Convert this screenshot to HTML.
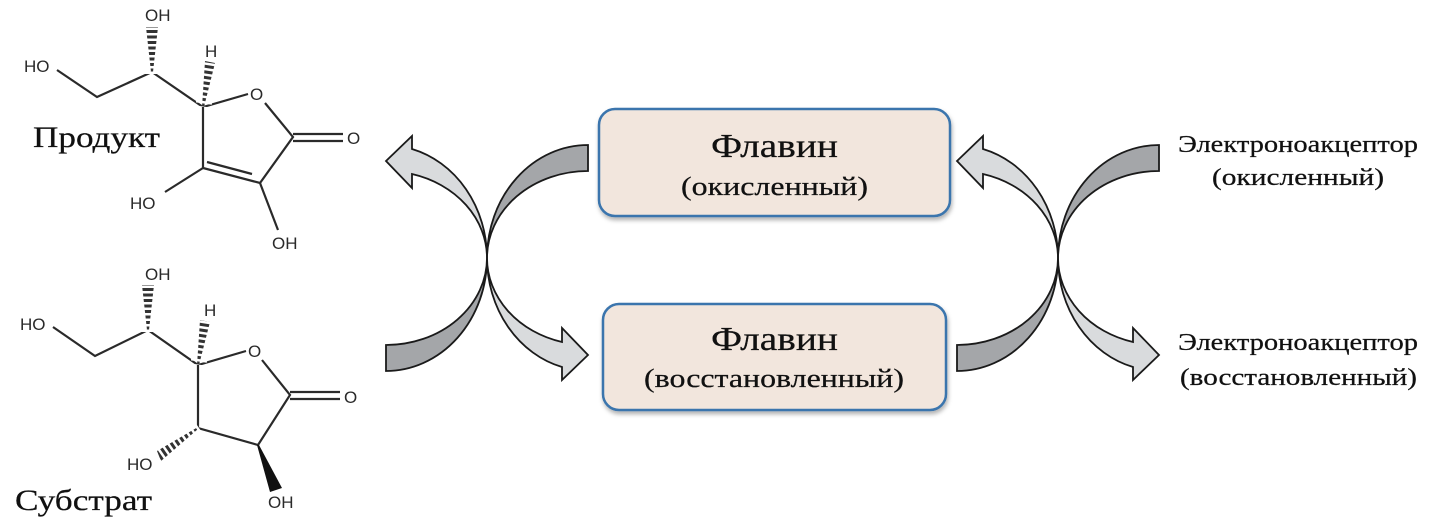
<!DOCTYPE html>
<html><head><meta charset="utf-8"><style>
html,body{margin:0;padding:0;background:#fff;}
svg{display:block;}
.s{font-family:"Liberation Serif",serif;fill:#111;stroke:#111;stroke-width:0.25;}
.a{font-family:"Liberation Sans",sans-serif;fill:#2a2a2a;font-size:17px;}
.b{stroke:#2a2a2a;stroke-width:2.2;fill:none;}
</style></head><body>
<svg width="1436" height="523" viewBox="0 0 1436 523" xmlns="http://www.w3.org/2000/svg">
<defs>
<filter id="sh" x="-5%" y="-10%" width="110%" height="130%"><feDropShadow dx="1" dy="3" stdDeviation="2" flood-color="#000" flood-opacity="0.3"/></filter>
<g id="cross">
<path d="M0 0 A101 113 0 0 1 -101 113 L-101 87 A101 87 0 0 0 0 0 Z" fill="#a4a6a9" stroke="#1a1a1a" stroke-width="1.8"/>
<path d="M0 0 A101 113 0 0 1 101 -113 L101 -87 A101 87 0 0 0 0 0 Z" fill="#a4a6a9" stroke="#1a1a1a" stroke-width="1.8"/>
<path d="M0 0 A101 113 0 0 0 -75 -109 L-75 -122 L-101 -97 L-75 -70 L-75 -84 A101 87 0 0 1 0 0 Z" fill="#d9dbdd" stroke="#1a1a1a" stroke-width="1.8"/>
<path d="M0 0 A101 113 0 0 0 75 109 L75 122 L101 97 L75 70 L75 84 A101 87 0 0 1 0 0 Z" fill="#d9dbdd" stroke="#1a1a1a" stroke-width="1.8"/>
</g>
</defs>

<use href="#cross" x="487" y="258"/>
<use href="#cross" x="1058" y="258"/>

<rect x="599" y="109" width="351" height="107" rx="16" fill="#f2e6dd" stroke="#3a74ad" stroke-width="2.5" filter="url(#sh)"/>
<rect x="603" y="304" width="343" height="106" rx="16" fill="#f2e6dd" stroke="#3a74ad" stroke-width="2.5" filter="url(#sh)"/>
<text class="s" x="711" y="157" font-size="34" textLength="127" lengthAdjust="spacingAndGlyphs">Флавин</text>
<text class="s" x="681" y="195" font-size="26" textLength="187" lengthAdjust="spacingAndGlyphs">(окисленный)</text>
<text class="s" x="711" y="350" font-size="34" textLength="127" lengthAdjust="spacingAndGlyphs">Флавин</text>
<text class="s" x="644" y="387" font-size="26" textLength="260" lengthAdjust="spacingAndGlyphs">(восстановленный)</text>

<text class="s" x="1178" y="152" font-size="24" textLength="240" lengthAdjust="spacingAndGlyphs">Электроноакцептор</text>
<text class="s" x="1212" y="185" font-size="24" textLength="172" lengthAdjust="spacingAndGlyphs">(окисленный)</text>
<text class="s" x="1178" y="350" font-size="24" textLength="240" lengthAdjust="spacingAndGlyphs">Электроноакцептор</text>
<text class="s" x="1180" y="385" font-size="24" textLength="237" lengthAdjust="spacingAndGlyphs">(восстановленный)</text>

<text class="s" x="33" y="147" font-size="30" textLength="127" lengthAdjust="spacingAndGlyphs">Продукт</text>
<text class="s" x="15" y="510" font-size="30" textLength="137" lengthAdjust="spacingAndGlyphs">Субстрат</text>

<!-- Product -->
<text class="a" x="24" y="72">HO</text>
<polyline class="b" points="57,70 97,97 152,72 203,107 248,94"/>
<polygon points="151,72 153,72 158,27 146,27" fill="#333"/>
<line x1="152" y1="74" x2="152" y2="25" stroke="#fff" stroke-width="16" stroke-dasharray="2.5 3"/>
<text class="a" x="145" y="21">OH</text>
<polygon points="202,107 204,107 215,63 205,61" fill="#333"/>
<line x1="203" y1="109" x2="210.5" y2="60" stroke="#fff" stroke-width="16" stroke-dasharray="2.5 3"/>
<text class="a" x="205" y="57">H</text>
<text class="a" x="250" y="100">O</text>
<polyline class="b" points="265,103 293,137 260,183 203,168 203,107"/>
<line class="b" x1="252" y1="174" x2="207" y2="162"/>
<line class="b" x1="293" y1="134" x2="343" y2="134"/>
<line class="b" x1="293" y1="141" x2="343" y2="141"/>
<text class="a" x="347" y="144">O</text>
<line class="b" x1="203" y1="168" x2="165" y2="192"/>
<text class="a" x="130" y="209">HO</text>
<line class="b" x1="260" y1="183" x2="278" y2="230"/>
<text class="a" x="272" y="249">OH</text>

<!-- Substrate -->
<text class="a" x="20" y="330">HO</text>
<polyline class="b" points="53,327 95,356 148,330 198,365 246,351"/>
<polygon points="147,330 149,330 154,285 142,285" fill="#333"/>
<line x1="148" y1="332" x2="148" y2="283" stroke="#fff" stroke-width="16" stroke-dasharray="2.5 3"/>
<text class="a" x="145" y="280">OH</text>
<polygon points="197,365 199,365 210,322 200,320" fill="#333"/>
<line x1="198" y1="367" x2="205.5" y2="318" stroke="#fff" stroke-width="16" stroke-dasharray="2.5 3"/>
<text class="a" x="204" y="316">H</text>
<text class="a" x="248" y="357">O</text>
<polyline class="b" points="262,360 290,395 258,445 198,428 198,365"/>
<line class="b" x1="290" y1="392" x2="340" y2="392"/>
<line class="b" x1="290" y1="399" x2="340" y2="399"/>
<text class="a" x="344" y="403">O</text>
<polygon points="198,427 198,429 161,461 157,451" fill="#333"/>
<line x1="199" y1="428" x2="157" y2="457" stroke="#fff" stroke-width="16" stroke-dasharray="2.5 3"/>
<text class="a" x="127" y="470">HO</text>
<polygon points="257,445 259,445 282,488 270,492" fill="#111"/>
<text class="a" x="268" y="508">OH</text>
</svg>
</body></html>
